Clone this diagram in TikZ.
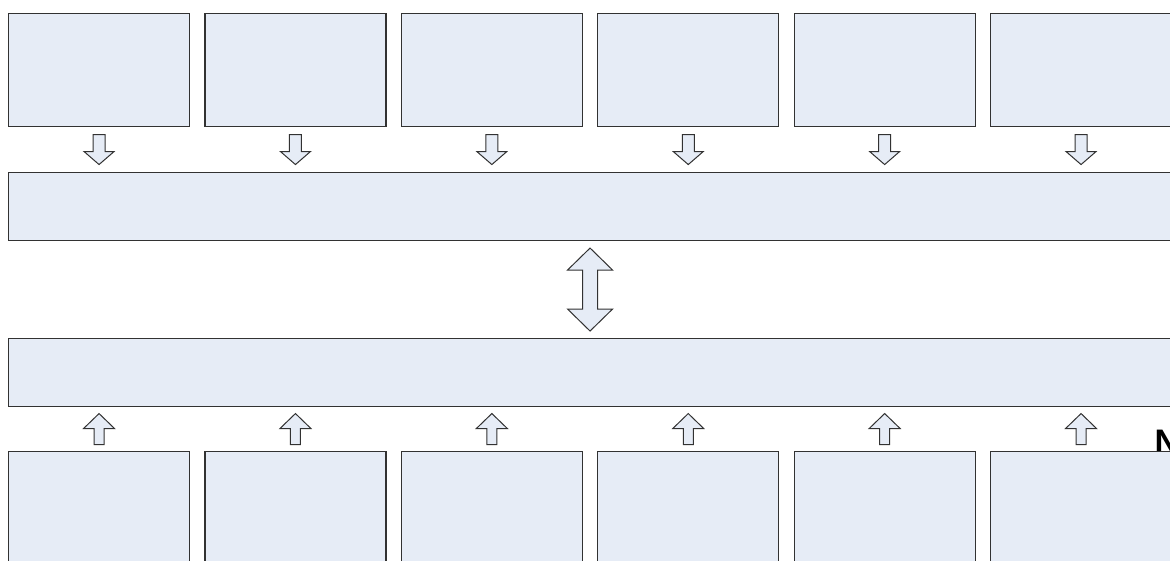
\documentclass[tikz,border=0pt]{standalone}
\usepackage{fontspec}
\newfontfamily\capfont{Liberation Sans Bold}
\usetikzlibrary{calc}
\definecolor{boxfill}{RGB}{230,236,246}
\definecolor{boxline}{RGB}{50,50,50}
\tikzset{
    box/.style={draw=boxline, fill=boxfill, line width=1.1pt, inner sep=0pt, anchor=north west},
    blockarrow/.style={draw=boxline, fill=boxfill, line width=1pt, line join=miter},
    downarrow/.pic={\draw[blockarrow] (-6,-15) -- (6,-15) -- (6,2) -- (15,2) -- (0,15) -- (-15,2) -- (-6,2) -- cycle;},
    uparrow/.pic={\draw[blockarrow] (-5,15.5) -- (5,15.5) -- (5,-0.5) -- (15.5,-0.5) -- (0,-15.5) -- (-15.5,-0.5) -- (-5,-0.5) -- cycle;},
    bothways/.pic={\draw[blockarrow] (0,-41.5) -- (22.5,-19.5) -- (7.5,-19.5) -- (7.5,19.5) -- (22.5,19.5) -- (0,41.5)
        -- (-22.5,19.5) -- (-7.5,19.5) -- (-7.5,-19.5) -- (-22.5,-19.5) -- cycle;}
}
\begin{document}
\begin{tikzpicture}[x=1pt, y=-1pt]
    \useasboundingbox (0,0) rectangle (1170,561);
    \clip (0,0) rectangle (1170,561);

    % Top row
    \foreach \i in {1,...,6} {
        \node[box, minimum width=181pt, minimum height=113pt] (top\i) at ({8+196.4*(\i-1)},13) {};
    }
    \node[box, minimum width=1180pt, minimum height=68pt] (upper) at (8,172) {};
    \foreach \i in {1,...,6} {
        \pic at ($(top\i.south)!0.5!(top\i.south |- upper.north)$) {downarrow};
    }

    % Bottom row (the letter sits behind the last box)
    \node[font=\capfont\fontsize{34}{34}\selectfont, anchor=base west, inner sep=0pt] (cut) at (1154.5,453) {N};
    \node[box, minimum width=1180pt, minimum height=68pt] (lower) at (8,338) {};
    \foreach \i in {1,...,6} {
        \node[box, minimum width=181pt, minimum height=130pt] (bot\i) at ({8+196.4*(\i-1)},451) {};
        \pic at ($(bot\i.north)!0.5!(bot\i.north |- lower.south)$) {uparrow};
    }

    % Link between the bands
    \coordinate (gap) at ($(top3.south east)!0.5!(top4.south west)$);
    \pic at ($(gap |- upper.south)!0.5!(gap |- lower.north)$) {bothways};
\end{tikzpicture}
\end{document}
